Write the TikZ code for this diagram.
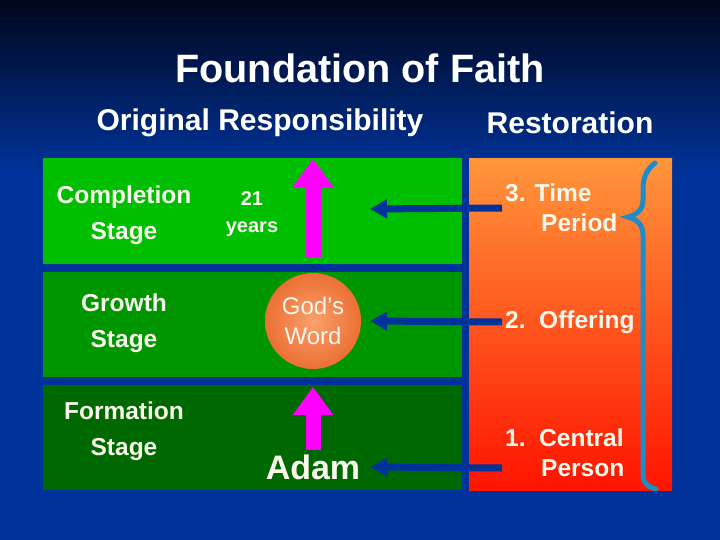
\documentclass[tikz,border=0pt]{standalone}
\usepackage{fontspec}
\setmainfont{Liberation Sans}
\usetikzlibrary{arrows.meta,positioning}
\definecolor{slideBg}{RGB}{0,51,153}
\definecolor{slideTop}{RGB}{0,6,28}
\definecolor{rowHi}{RGB}{0,190,0}
\definecolor{rowMid}{RGB}{0,150,0}
\definecolor{rowLo}{RGB}{0,104,0}
\definecolor{restTop}{RGB}{255,150,60}
\definecolor{restMid}{RGB}{255,115,45}
\definecolor{restBot}{RGB}{255,20,0}
\definecolor{braceCol}{RGB}{30,140,200}
\definecolor{wordIn}{RGB}{250,160,110}
\definecolor{wordOut}{RGB}{236,112,52}
\definecolor{cream}{RGB}{248,248,236}
\definecolor{growCol}{RGB}{255,0,255}

\begin{document}
\begin{tikzpicture}[x=1pt,y=-1pt,
    row/.style={rectangle, inner sep=0pt, minimum width=419pt, minimum height=105pt},
    lbl/.style={text=cream, font=\bfseries\fontsize{24.5}{36}\selectfont, align=center, inner sep=0pt},
    rest/.style={text=cream, font=\bfseries\fontsize{24.5}{30}\selectfont, align=left, anchor=west, inner sep=0pt},
    head/.style={text=white, font=\bfseries\fontsize{30}{36}\selectfont},
    growarrow/.style={draw=growCol, line width=15pt, -{Triangle[width=39pt,length=28pt]}},
    backarrow/.style={draw=slideBg, line width=7pt, -{Triangle[width=18pt,length=17pt]}}]
  \fill[slideBg] (0,0) rectangle (720,540);
  \shade[top color=slideTop, bottom color=slideBg] (0,0) rectangle (720,170);
  \useasboundingbox (0,0) rectangle (720,540);

  \node[head, font=\bfseries\fontsize{39.6}{44}\selectfont] (title) at (360,68) {Foundation of Faith};
  \node[head] (orig) at (260,123) {Original Responsibility};
  \node[head] (resto) at (570,123) {Restoration};

  \node[row, fill=rowHi]  (rowc) at (252.5,211) {};
  \node[row, fill=rowMid] (rowg) at (252.5,324) {};
  \node[row, fill=rowLo]  (rowf) at (252.5,437) {};
  \node[rectangle, inner sep=0pt, minimum width=203pt, minimum height=331pt,
        top color=restTop, middle color=restMid, bottom color=restBot] (restbox) at (570.5,324.5) {};

  \node[lbl] (complbl) at (124,215) {Completion\\Stage};
  \node[lbl] (growlbl) at (124,323) {Growth\\Stage};
  \node[lbl] (formlbl) at (124,431) {Formation\\Stage};
  \node[lbl, font=\bfseries\fontsize{20}{27}\selectfont] (years) at (252,214) {21\\years};

  \node[circle, inner sep=0pt, minimum size=96pt, inner color=wordIn, outer color=wordOut,
        text=cream, align=center, font=\fontsize{24}{30}\selectfont] (word) at (313,321) {God’s\\Word};
  \node[text=cream, font=\bfseries\fontsize{34}{40}\selectfont, inner sep=0pt] (adam) at (313,467) {Adam};

  \coordinate (b1) at (313,257);
  \coordinate (t1) at (313,159);
  \coordinate (t2) at (313,387);
  \draw[growarrow] (b1) -- (t1);
  \draw[growarrow, shorten <=4pt] (adam.north) -- (t2);

  \node[rest] (time) at (505,208) {3. Time\\\hspace*{36pt}Period};
  \node[rest] (offer) at (505,322) {2.\ \ Offering};
  \node[rest] (central) at (505,453) {1.\ \ Central\\\hspace*{36pt}Person};

  \coordinate (e3) at (370,209);
  \coordinate (s1) at (502,468);
  \draw[backarrow] ([xshift=-3pt]time.west) -- (e3);
  \draw[backarrow] ([xshift=-3pt]offer.west) -- ([xshift=9pt]word.east);
  \draw[backarrow] (s1) -- ([xshift=10pt]adam.east);

  \draw[braceCol, line width=5pt, line cap=round]
    (655,163) .. controls (646,170) and (643,178) .. (643,190) -- (643,200)
    .. controls (643,210) and (636,215) .. (628,217)
    .. controls (636,219) and (643,224) .. (643,235) -- (643,476)
    .. controls (643,483) and (648,487) .. (656,489);
\end{tikzpicture}
\end{document}
